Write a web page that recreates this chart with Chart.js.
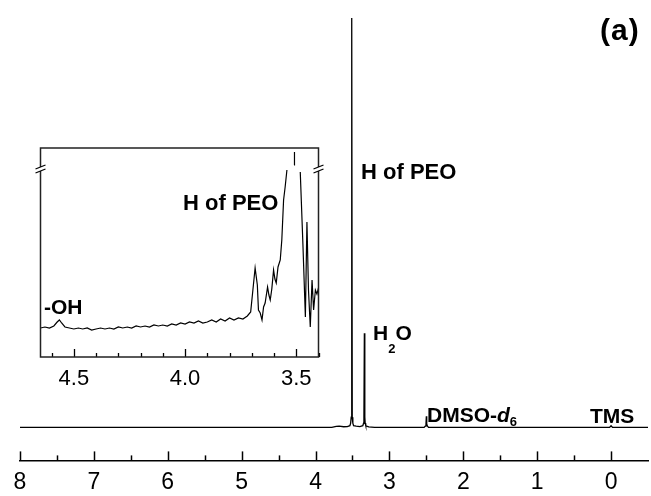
<!DOCTYPE html>
<html>
<head>
<meta charset="utf-8">
<script src="https://cdn.jsdelivr.net/npm/chart.js@4"></script>
<style>
  body { margin: 0; background: #fff; }
  #wrap { position: relative; width: 651px; height: 496px; overflow: hidden; }
  #wrap canvas { position: absolute; left: 0; top: 0; }
  .lbl {
    position: absolute;
    font-family: "Liberation Sans", Arial, sans-serif;
    font-weight: bold;
    font-size: 21px;
    line-height: 1;
    color: #000;
    white-space: nowrap;
  }
  .lbl sub { font-size: 13px; line-height: 0; }
</style>
</head>
<body>
<div id="wrap">
  <canvas id="mainChart" width="651" height="496"></canvas>
  <canvas id="insetChart" width="651" height="496"></canvas>

  <div class="lbl" style="left:600px; top:15px; font-size:30px; letter-spacing:1px;">(a)</div>
  <div class="lbl" style="left:361px; top:161px; font-size:22px;">H of PEO</div>
  <div class="lbl" style="left:373px; top:322px;">H<sub style="vertical-align:-13px;">2</sub>O</div>
  <div class="lbl" style="left:427px; top:404px;">DMSO-<i>d</i><sub style="vertical-align:-4px;">6</sub></div>
  <div class="lbl" style="left:590px; top:405px;">TMS</div>
  <div class="lbl" style="left:183px; top:192px; font-size:22px;">H of PEO</div>
  <div class="lbl" style="left:44px; top:296px;">-OH</div>
</div>

<script>
/* -----------------------------------------
   data
----------------------------------------- */
// full spectrum: chemical shift (ppm) and relative intensity (main peak = 100)
const mainShift = [8.0, 3.78, 3.72, 3.68, 3.62, 3.57, 3.535, 3.525, 3.517, 3.51, 3.503, 3.495, 3.485,
    3.45, 3.40, 3.36, 3.35, 3.345, 3.339, 3.333, 3.328, 3.32, 3.28, 3.20,
    2.53, 2.515, 2.505, 2.50, 2.495, 2.485, 2.47, 0.02, 0.0, -0.02, -0.5];
const mainIntensity = [0, 0, 0.25, 0.3, 0.15, 0.2, 0.4, 1, 2.5, 100, 2.5, 1, 0.4,
    0.3, 0.2, 0.4, 1, 2.5, 23, 2.5, 1, 0.4, 0.1, 0,
    0, 0.3, 0.8, 2.7, 0.8, 0.3, 0, 0, 0.4, 0, 0];

const mainMajorTicks = [0, 1, 2, 3, 4, 5, 6, 7, 8];
const mainMinorTicks = [0.5, 1.5, 2.5, 3.5, 4.5, 5.5, 6.5, 7.5];

// inset: 4.65 - 3.40 ppm, vertically expanded (a.u.), null = cut by the axis break
const insetShift = [4.65, 4.63, 4.61, 4.59, 4.575, 4.565, 4.555, 4.54, 4.52, 4.50,
    4.48, 4.46, 4.44, 4.42, 4.40, 4.38, 4.36, 4.34, 4.32, 4.30,
    4.28, 4.26, 4.24, 4.22, 4.20, 4.18, 4.16, 4.14, 4.12, 4.10,
    4.08, 4.06, 4.04, 4.02, 4.00, 3.98, 3.96, 3.94, 3.92, 3.90,
    3.88, 3.86, 3.84, 3.82, 3.80, 3.78, 3.76, 3.74, 3.72, 3.705,
    3.695, 3.685, 3.675, 3.670, 3.662, 3.654, 3.647, 3.640, 3.629, 3.623,
    3.617, 3.610, 3.602, 3.596, 3.590, 3.582, 3.572, 3.565, 3.557, 3.550,
    3.542, 3.530, 3.510, 3.508, 3.495, 3.482, 3.470, 3.459, 3.452, 3.445,
    3.437, 3.429, 3.422, 3.414, 3.407, 3.400];
const insetIntensity = [29, 30, 29, 31, 35, 37, 34, 30, 29, 28,
    29, 28, 29, 27, 28, 29, 28, 29, 28, 30,
    29, 30, 29, 31, 30, 31, 30, 32, 31, 32,
    31, 33, 32, 34, 33, 35, 34, 36, 34, 35,
    37, 35, 38, 36, 39, 37, 39, 38, 41, 45,
    67, 89, 72, 47, 44, 37, 50, 54, 70, 62,
    57, 68, 87, 78, 74, 90, 97, 117, 157, 170,
    187, null, 192, 205, null, 185, 112, 40, 135, 67,
    30, 77, 47, 67, 63, 69];

const insetMajorTicks = [3.5, 4.0, 4.5];
const insetMinorTicks = [3.4, 3.6, 3.7, 3.8, 3.9, 4.1, 4.2, 4.3, 4.4, 4.6];

/* -----------------------------------------
   helpers
----------------------------------------- */
const FONT = "'Liberation Sans', Arial, sans-serif";

function toPoints(xs, ys) {
    return xs.map((x, i) => ({ x: x, y: ys[i] }));
}

// tick marks pointing up into the plot from the bottom axis
const innerTicks = {
    id: "innerTicks",
    afterDraw(chart, args, opts) {
        const ctx = chart.ctx;
        const sx = chart.scales.x;
        const bottom = chart.chartArea.bottom;
        ctx.save();
        ctx.strokeStyle = "#000";
        ctx.lineWidth = opts.width;
        const draw = (list, len) => list.forEach(v => {
            const px = Math.round(sx.getPixelForValue(v)) + 0.5;
            ctx.beginPath();
            ctx.moveTo(px, bottom);
            ctx.lineTo(px, bottom - len);
            ctx.stroke();
        });
        draw(opts.major, opts.majorLen);
        draw(opts.minor, opts.minorLen);
        ctx.restore();
    }
};

// closed frame with "//" break marks on both sides of the inset
const insetFrame = {
    id: "insetFrame",
    afterDraw(chart) {
        const ctx = chart.ctx;
        const a = chart.chartArea;
        ctx.save();
        ctx.strokeStyle = "#222";
        ctx.lineWidth = 1.5;
        ctx.strokeRect(a.left, a.top, a.right - a.left, a.bottom - a.top);

        [a.left, a.right].forEach(x => {
            const y = a.top + 21;
            ctx.fillStyle = "#fff";
            ctx.fillRect(x - 2, y - 2, 4, 4);
            ctx.strokeStyle = "#000";
            ctx.lineWidth = 1.3;
            ctx.beginPath();
            ctx.moveTo(x - 5, y);
            ctx.lineTo(x + 5, y - 4);
            ctx.moveTo(x - 5, y + 4);
            ctx.lineTo(x + 5, y);
            ctx.stroke();
        });
        ctx.restore();
    }
};

/* -----------------------------------------
   main spectrum
----------------------------------------- */
new Chart(document.getElementById("mainChart"), {
    type: "line",
    data: {
        datasets: [{
            data: toPoints(mainShift, mainIntensity),
            borderColor: "#000",
            borderWidth: 1.3,
            pointRadius: 0,
            tension: 0
        }]
    },
    options: {
        responsive: false,
        animation: false,
        layout: { padding: { left: 20, right: 3, top: 18, bottom: -8 } },
        plugins: {
            legend: { display: false },
            tooltip: { enabled: false },
            innerTicks: { major: mainMajorTicks, minor: mainMinorTicks, majorLen: 9, minorLen: 5, width: 1.5 }
        },
        scales: {
            x: {
                type: "linear",
                reverse: true,
                min: -0.5,
                max: 8,
                afterBuildTicks: s => { s.ticks = mainMajorTicks.map(v => ({ value: v })); },
                grid: { display: false, drawTicks: false },
                border: { display: true, color: "#000", width: 1.5 },
                ticks: {
                    padding: 8,
                    color: "#000",
                    font: { family: FONT, size: 23 },
                    callback: v => String(v)
                }
            },
            y: {
                display: false,
                min: -8.07,
                max: 100
            }
        }
    },
    plugins: [innerTicks]
});

/* -----------------------------------------
   inset
----------------------------------------- */
new Chart(document.getElementById("insetChart"), {
    type: "line",
    data: {
        datasets: [{
            data: toPoints(insetShift, insetIntensity),
            borderColor: "#000",
            borderWidth: 1.2,
            pointRadius: 0,
            tension: 0,
            spanGaps: false
        }]
    },
    options: {
        responsive: false,
        animation: false,
        layout: { padding: { left: 40.5, right: 332.5, top: 148, bottom: 94.6 } },
        plugins: {
            legend: { display: false },
            tooltip: { enabled: false },
            innerTicks: { major: insetMajorTicks, minor: insetMinorTicks, majorLen: 8, minorLen: 4, width: 1.3 }
        },
        scales: {
            x: {
                type: "linear",
                reverse: true,
                min: 3.4,
                max: 4.65,
                afterBuildTicks: s => { s.ticks = insetMajorTicks.map(v => ({ value: v })); },
                grid: { display: false, drawTicks: false },
                border: { display: false },
                ticks: {
                    padding: 9,
                    color: "#000",
                    font: { family: FONT, size: 22 },
                    callback: v => Number(v).toFixed(1)
                }
            },
            y: {
                display: false,
                min: 0,
                max: 209
            }
        }
    },
    plugins: [innerTicks, insetFrame]
});
</script>
</body>
</html>
